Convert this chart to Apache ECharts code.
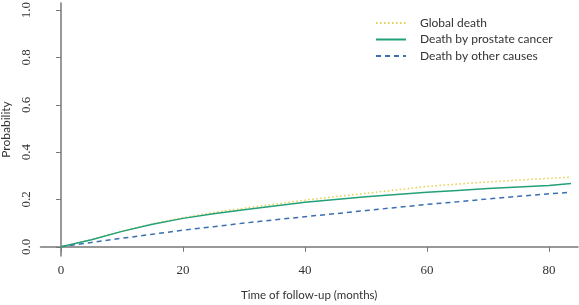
<!DOCTYPE html>
<html>
<head>
<meta charset="utf-8">
<script src="https://cdn.jsdelivr.net/npm/echarts@6/dist/echarts.min.js"></script>
<style>
  html, body { margin: 0; padding: 0; background: #fff; }
  #chart { width: 579px; height: 305px; }
</style>
</head>
<body>
<div id="chart"></div>
<script>
// months of follow-up
const months = [0, 5, 10, 15, 20, 25, 30, 35, 40, 45, 50, 55, 60, 65, 70, 75, 80, 83.6]
const monthsOther = [0, 5, 10, 15, 20, 25, 30, 35, 40, 45, 50, 55, 60, 65, 70, 75, 80, 83]
// cumulative probabilities
const globalDeath = [0, 0.030, 0.066, 0.097, 0.123, 0.145, 0.163, 0.180, 0.197, 0.212, 0.226, 0.240, 0.255, 0.265, 0.274, 0.282, 0.289, 0.294]
const prostateDeath = [0, 0.030, 0.065, 0.095, 0.120, 0.140, 0.156, 0.172, 0.188, 0.200, 0.211, 0.221, 0.230, 0.238, 0.246, 0.253, 0.259, 0.267]
const otherDeath = [0, 0.018, 0.036, 0.053, 0.070, 0.085, 0.100, 0.114, 0.127, 0.140, 0.153, 0.166, 0.179, 0.190, 0.202, 0.213, 0.224, 0.229]
const xTicks = [0, 20, 40, 60, 80]
const yTicks = [0, 0.2, 0.4, 0.6, 0.8, 1.0]

const seriesNames = ['Global death', 'Death by prostate cancer', 'Death by other causes']

function pairs(xs, ys) {
  return xs.map((m, i) => [m, ys[i]])
}

const chart = echarts.init(document.getElementById('chart'))
const axisColor = '#777'
const textColor = '#333'

chart.setOption({
  animation: false,
  grid: { left: 40.5, right: 1, top: 3, bottom: 49, outerBoundsMode: 'none', containLabel: false },
  legend: {
    orient: 'vertical',
    left: 370,
    top: 11,
    itemWidth: 30,
    itemHeight: 14,
    itemGap: 2.5,
    data: seriesNames,
    itemStyle: { opacity: 0 },
    textStyle: { fontFamily: 'Lato', fontSize: 12, color: textColor, padding: [0, 0, 0, 9], lineHeight: 14 }
  },
  xAxis: {
    type: 'value',
    min: -3.36,
    max: 84.75,
    name: 'Time of follow-up (months)',
    nameLocation: 'middle',
    nameGap: 33,
    nameTextStyle: { fontFamily: 'Lato', fontSize: 11.5, color: textColor },
    splitLine: { show: false },
    axisLine: { show: true, lineStyle: { color: axisColor, width: 1.5 } },
    axisTick: { show: true, length: 5, customValues: xTicks, lineStyle: { color: axisColor } },
    axisLabel: { customValues: xTicks, margin: 8, fontFamily: 'Liberation Serif', fontSize: 13, color: textColor }
  },
  yAxis: {
    type: 'value',
    min: -0.039,
    max: 1.03,
    name: 'Probability',
    nameLocation: 'middle',
    nameGap: 27,
    nameTextStyle: { fontFamily: 'Lato', fontSize: 12, color: textColor },
    splitLine: { show: false },
    axisLine: { show: true, lineStyle: { color: axisColor, width: 1.5 } },
    axisTick: { show: true, length: 5, customValues: yTicks, lineStyle: { color: axisColor } },
    axisLabel: {
      customValues: yTicks,
      rotate: 90,
      margin: 7,
      fontFamily: 'Liberation Serif',
      fontSize: 13,
      color: textColor,
      formatter: v => v.toFixed(1)
    }
  },
  series: [
    {
      name: seriesNames[0],
      type: 'line',
      symbol: 'none',
      smooth: false,
      data: pairs(months, globalDeath),
      lineStyle: { color: '#e6cf4a', width: 1.5, type: [1.5, 2.5] },
      itemStyle: { color: '#e6cf4a' },
      z: 1
    },
    {
      name: seriesNames[1],
      type: 'line',
      symbol: 'none',
      smooth: false,
      data: pairs(months, prostateDeath),
      lineStyle: { color: '#22a07a', width: 1.5 },
      itemStyle: { color: '#22a07a' },
      z: 3
    },
    {
      name: seriesNames[2],
      type: 'line',
      symbol: 'none',
      smooth: false,
      data: pairs(monthsOther, otherDeath),
      lineStyle: { color: '#3a6fb0', width: 1.5, type: [5, 4] },
      itemStyle: { color: '#3a6fb0' },
      z: 2
    }
  ]
})
</script>
</body>
</html>
